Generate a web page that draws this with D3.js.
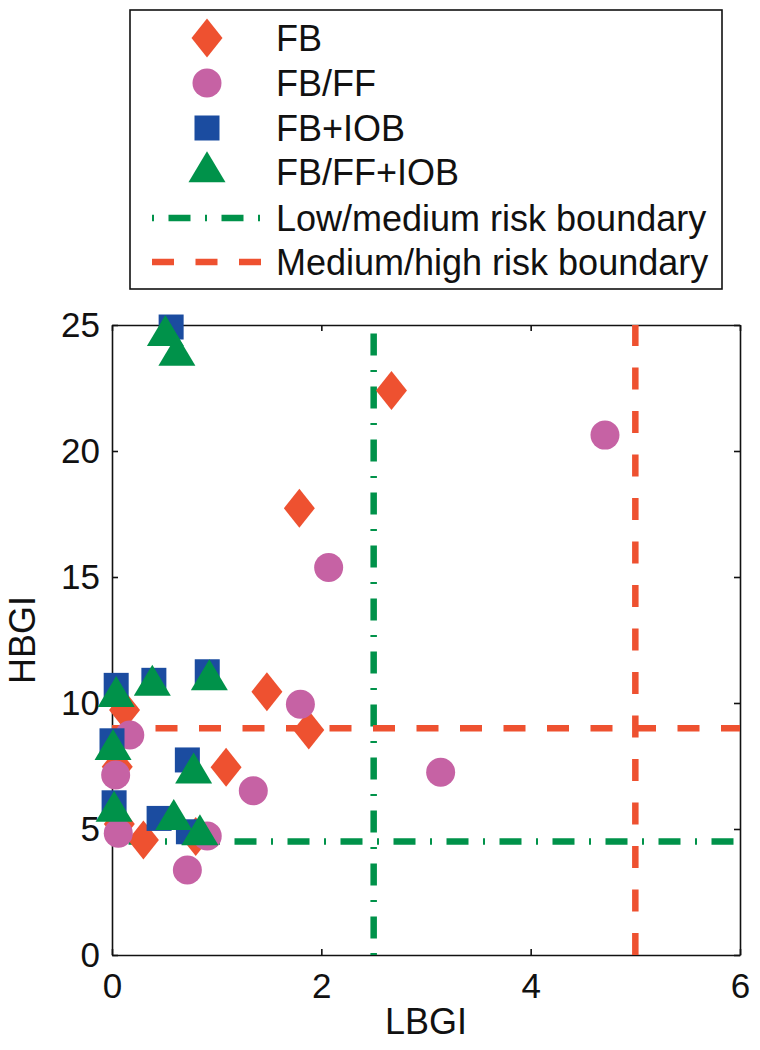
<!DOCTYPE html>
<html>
<head>
<meta charset="utf-8">
<script src="https://cdn.jsdelivr.net/npm/d3@7"></script>
<style>
  html, body { margin: 0; padding: 0; background: #fff; }
  text { font-family: "Liberation Sans", Arial, Helvetica, sans-serif; fill: #111; }
</style>
</head>
<body>
<svg id="chart" width="760" height="1050"></svg>
<script>
// ---------- data ----------
const seriesNames = ["FB", "FB/FF", "FB+IOB", "FB/FF+IOB"];
const lineNames = ["Low/medium risk boundary", "Medium/high risk boundary"];

const fbX = [2.67, 1.79, 1.48, 1.88, 1.09, 0.30, 0.80, 0.12, 0.05, 0.07];
const fbY = [22.4, 17.73, 10.45, 8.93, 7.45, 4.56, 4.7, 9.72, 7.47, 5.2];

const fbffX = [4.71, 2.07, 1.80, 3.14, 1.35, 0.17, 0.035, 0.06, 0.91, 0.72];
const fbffY = [20.63, 15.38, 9.95, 7.25, 6.52, 8.73, 7.14, 4.83, 4.72, 3.37];

const fbiobX = [0.565, 0.04, 0.40, 0.91, 0.0, 0.72, 0.02, 0.45, 0.73];
const fbiobY = [24.92, 10.7, 10.9, 11.24, 8.5, 7.74, 6.04, 5.42, 4.89];

const fbffiobX = [0.51, 0.62, 0.04, 0.385, 0.93, 0.01, 0.78, 0.02, 0.59, 0.84];
const fbffiobY = [24.58, 23.79, 10.25, 10.7, 10.92, 8.15, 7.22, 5.70, 5.37, 4.77];

const lowMedLBGI = 2.5, lowMedHBGI = 4.5;
const medHighLBGI = 5, medHighHBGI = 9;

const xTicks = [0, 2, 4, 6];
const yTicks = [0, 5, 10, 15, 20, 25];
const xDomain = [0, 6];
const yDomain = [0, 25];

// ---------- styles ----------
const colors = { FB: "#EE5130", FBFF: "#C662A4", FBIOB: "#1B4CA0", FBFFIOB: "#00924A" };

const svg = d3.select("#chart");
const xS = d3.scaleLinear().domain(xDomain).range([112, 740]);
const yS = d3.scaleLinear().domain(yDomain).range([955, 325]);

// marker shapes
function diamondPath(w, h) { return `M0,${-h/2}L${w/2},0L0,${h/2}L${-w/2},0Z`; }
function trianglePath(w, h) { return `M0,${-2*h/3}L${w/2},${h/3}L${-w/2},${h/3}Z`; }
const shapes = {
  diamond: g => g.append("path").attr("d", diamondPath(31, 39)),
  circle: g => g.append("circle").attr("r", 14.5),
  square: g => g.append("rect").attr("x", -12.5).attr("y", -12.5).attr("width", 25).attr("height", 25),
  triangle: g => g.append("path").attr("d", trianglePath(37, 31))
};

// ---------- axes ----------
const axisG = svg.append("g");
const axBottom = axisG.append("g").attr("transform", `translate(0,${yS(0)})`)
  .call(d3.axisBottom(xS).tickValues(xTicks).tickSize(-6).tickSizeOuter(0).tickPadding(18).tickFormat(d3.format("d")));
axisG.append("g").attr("transform", `translate(0,${yS(25)})`)
  .call(d3.axisTop(xS).tickValues(xTicks).tickSize(-6).tickSizeOuter(0).tickFormat(""));
axisG.append("g").attr("transform", `translate(${xS(0)},0)`)
  .call(d3.axisLeft(yS).tickValues(yTicks).tickSize(-6).tickSizeOuter(0).tickPadding(12).tickFormat(d3.format("d")));
axisG.append("g").attr("transform", `translate(${xS(6)},0)`)
  .call(d3.axisRight(yS).tickValues(yTicks).tickSize(-6).tickSizeOuter(0).tickFormat(""));

axisG.selectAll(".domain").attr("stroke", "#111").attr("stroke-width", 1.6);
axisG.selectAll(".tick line").attr("stroke", "#111").attr("stroke-width", 1.6);
axisG.selectAll(".tick text")
  .attr("font-size", 35)
  .attr("font-family", "Liberation Sans, Arial, Helvetica, sans-serif")
  .attr("fill", "#111");
axBottom.selectAll(".tick text").attr("dy", "0.72em");

// axis labels
svg.append("text").attr("x", (xS(0) + xS(6)) / 2).attr("y", 1034)
  .attr("text-anchor", "middle").attr("font-size", 36).text("LBGI");
svg.append("text").attr("transform", `translate(35,${(yS(0) + yS(25)) / 2}) rotate(-90)`)
  .attr("text-anchor", "middle").attr("font-size", 36).text("HBGI");

// ---------- boundary lines ----------
const lineW = 6.5;
const greenDash = "2,14.5,22,14.5";
const redDash = "22,21.5";
const lines = svg.append("g");
lines.append("line").attr("x1", xS(0)).attr("x2", xS(6)).attr("y1", yS(lowMedHBGI)).attr("y2", yS(lowMedHBGI))
  .attr("stroke", colors.FBFFIOB).attr("stroke-width", lineW).attr("stroke-dasharray", greenDash);
lines.append("line").attr("x1", xS(lowMedLBGI)).attr("x2", xS(lowMedLBGI)).attr("y1", yS(0)).attr("y2", yS(25))
  .attr("stroke", colors.FBFFIOB).attr("stroke-width", lineW).attr("stroke-dasharray", greenDash);
lines.append("line").attr("x1", xS(0)).attr("x2", xS(6)).attr("y1", yS(medHighHBGI)).attr("y2", yS(medHighHBGI))
  .attr("stroke", colors.FB).attr("stroke-width", lineW).attr("stroke-dasharray", redDash);
lines.append("line").attr("x1", xS(medHighLBGI)).attr("x2", xS(medHighLBGI)).attr("y1", yS(0)).attr("y2", yS(25))
  .attr("stroke", colors.FB).attr("stroke-width", lineW).attr("stroke-dasharray", redDash);

// ---------- markers ----------
const series = [
  { xs: fbX, ys: fbY, shape: "diamond", color: colors.FB },
  { xs: fbffX, ys: fbffY, shape: "circle", color: colors.FBFF },
  { xs: fbiobX, ys: fbiobY, shape: "square", color: colors.FBIOB },
  { xs: fbffiobX, ys: fbffiobY, shape: "triangle", color: colors.FBFFIOB }
];
series.forEach(s => {
  const pts = s.xs.map((v, i) => ({ x: v, y: s.ys[i] }));
  svg.append("g").selectAll("g").data(pts).join("g")
    .attr("transform", d => `translate(${xS(d.x)},${yS(d.y)})`)
    .each(function () {
      shapes[s.shape](d3.select(this)).attr("fill", s.color);
    });
});

// ---------- legend ----------
const leg = svg.append("g");
leg.append("rect").attr("x", 130).attr("y", 10).attr("width", 592).attr("height", 279)
  .attr("fill", "#fff").attr("stroke", "#111").attr("stroke-width", 1.6);
const rowY = [38, 83, 128, 172, 218, 262];
series.forEach((s, i) => {
  const g = leg.append("g").attr("transform", `translate(207,${rowY[i]})`);
  shapes[s.shape](g).attr("fill", s.color);
  leg.append("text").attr("x", 276).attr("y", rowY[i] + 13).attr("font-size", 36).text(seriesNames[i]);
});
leg.append("line").attr("x1", 152).attr("x2", 262).attr("y1", rowY[4]).attr("y2", rowY[4])
  .attr("stroke", colors.FBFFIOB).attr("stroke-width", lineW).attr("stroke-dasharray", greenDash);
leg.append("text").attr("x", 276).attr("y", rowY[4] + 13).attr("font-size", 36).text(lineNames[0]);
leg.append("line").attr("x1", 152).attr("x2", 262).attr("y1", rowY[5]).attr("y2", rowY[5])
  .attr("stroke", colors.FB).attr("stroke-width", lineW).attr("stroke-dasharray", redDash);
leg.append("text").attr("x", 276).attr("y", rowY[5] + 13).attr("font-size", 36).text(lineNames[1]);
</script>
</body>
</html>
